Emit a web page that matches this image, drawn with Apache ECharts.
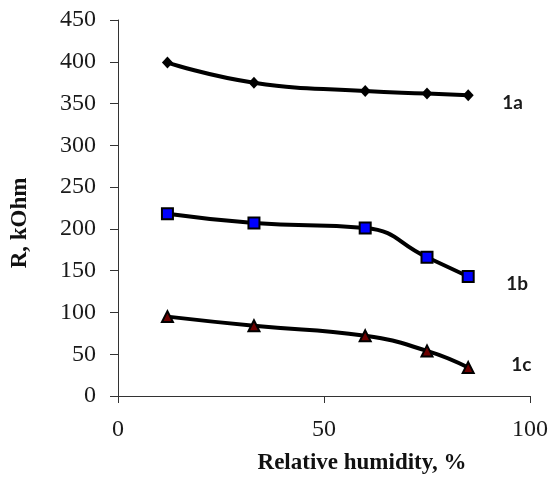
<!DOCTYPE html>
<html>
<head>
<meta charset="utf-8">
<script src="https://cdn.jsdelivr.net/npm/echarts@6/dist/echarts.min.js"></script>
<style>
  html, body { margin: 0; padding: 0; background: #fff; }
  #chart { width: 552px; height: 480px; }
</style>
</head>
<body>
<div id="chart"></div>
<script>
// relative humidity, % (same for all three curves)
const humidity = [12, 33, 60, 75, 85];
// resistance, kOhm
const r1a = [399, 375, 365, 362, 360];
const r1b = [218, 207, 201, 166, 143];
const r1c = [95, 84, 72, 54, 34];
const seriesNames = ['1a', '1b', '1c'];

const pairs = (ys) => humidity.map((x, i) => [x, ys[i]]);

const chart = echarts.init(document.getElementById('chart'));

const labelStyle = (dx, dy) => ({
  show: true,
  formatter: '{a}',
  fontFamily: 'Lato',
  fontWeight: 'bold',
  fontSize: 19,
  color: '#1a1a1a',
  distance: dx,
  offset: [0, dy]
});

const mkSeries = (name, ys, symbol, size, fill, lbl) => ({
  name: name,
  type: 'line',
  data: pairs(ys),
  smooth: 0.5,
  symbol: symbol,
  symbolSize: size,
  showAllSymbol: true,
  lineStyle: { color: '#000', width: 4 },
  itemStyle: { color: fill, borderColor: '#000', borderWidth: fill === '#000' ? 0 : 2 },
  endLabel: lbl,
  z: 3
});

const tickFont = { fontFamily: 'Liberation Serif', fontSize: 24, color: '#1a1a1a', margin: 22 };
const nameFont = { fontFamily: 'Liberation Serif', fontWeight: 'bold', fontSize: 23, color: '#111' };

chart.setOption({
  animation: false,
  grid: { left: 118, right: 22, top: 20, bottom: 81 },
  xAxis: {
    type: 'value',
    min: 0,
    max: 100,
    interval: 50,
    name: 'Relative humidity, %',
    nameLocation: 'middle',
    nameGap: 56,
    nameTextStyle: Object.assign({ padding: [0, 0, 0, 76] }, nameFont),
    axisLine: { lineStyle: { color: '#333', width: 1 } },
    axisTick: { show: true, length: 7, lineStyle: { color: '#333' } },
    axisLabel: tickFont,
    splitLine: { show: false }
  },
  yAxis: {
    type: 'value',
    min: 0,
    max: 450,
    interval: 50,
    name: 'R, kOhm',
    nameLocation: 'middle',
    nameGap: 86,
    nameTextStyle: Object.assign({ padding: [0, 30, 0, 0] }, nameFont),
    axisLine: { show: true, lineStyle: { color: '#333', width: 1 } },
    axisTick: { show: true, length: 8, lineStyle: { color: '#333' } },
    axisLabel: tickFont,
    splitLine: { show: false }
  },
  series: [
    mkSeries(seriesNames[0], r1a, 'diamond', [11, 12], '#000', labelStyle(34, 8)),
    mkSeries(seriesNames[1], r1b, 'rect', 11, '#0000ff', labelStyle(38, 7)),
    mkSeries(seriesNames[2], r1c, 'triangle', 11, '#6b0000', labelStyle(43, -3))
  ]
});
</script>
</body>
</html>
